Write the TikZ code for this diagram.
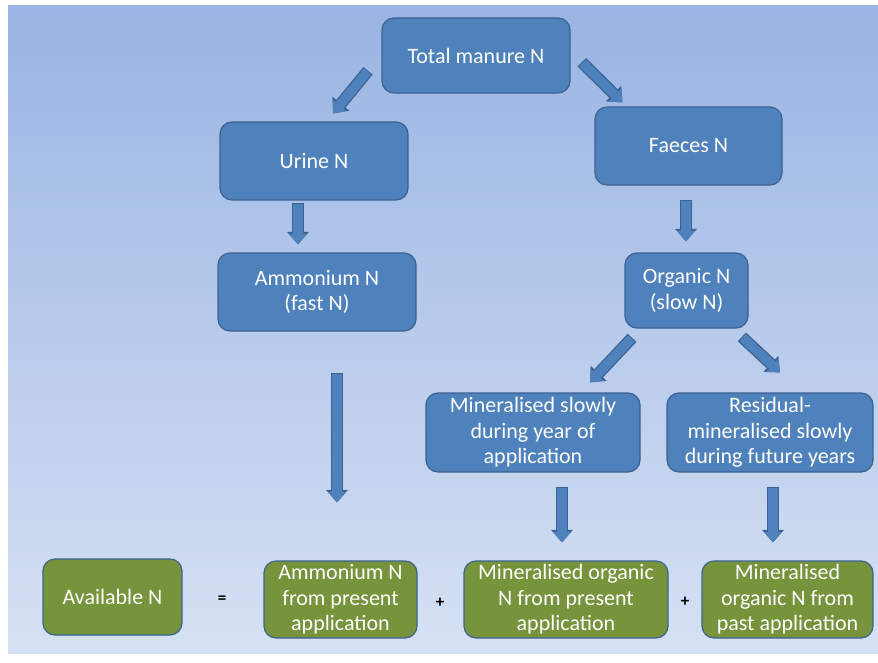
\documentclass[tikz,border=0pt]{standalone}
\usepackage{fontspec}
\setmainfont{Carlito}
\usetikzlibrary{arrows.meta, calc}
\definecolor{myblue}{RGB}{79,129,189}
\definecolor{myedge}{RGB}{60,98,145}
\definecolor{mygreen}{RGB}{119,147,60}
\definecolor{bgtop}{RGB}{153,180,227}
\definecolor{bgbottom}{RGB}{214,225,243}
\tikzstyle{blue} = [draw=myedge, line width=1.2, rounded corners=12,
    fill=myblue, text=white, inner sep=2,
    font=\fontsize{22}{25.5}\selectfont, align=center]
\tikzstyle{green} = [blue, fill=mygreen]
\tikzstyle{sign} = [font=\bfseries\fontsize{17}{17}\selectfont, text=black]
\tikzstyle{arrowedge} = [draw=myedge, line width=12, shorten <=-1,
    -{Triangle[length=12.5pt, width=22pt, line width=0pt]}]
\tikzstyle{arrowbody} = [draw=myblue, line width=9.5,
    -{Triangle[length=10.5pt, width=18pt, line width=0pt]}]
\newcommand{\blockarrow}[2]{\draw[arrowedge] #1 -- #2; \draw[arrowbody] #1 -- #2;}

\begin{document}
\begin{tikzpicture}[x=1pt, y=-1pt]
\useasboundingbox (0,0) rectangle (878,663);
\shade[top color=bgtop, bottom color=bgbottom] (8,6) rectangle (878,653);

%%% UPPER PART (blue)
\node[blue, minimum width=188, minimum height=75] (total) at (476,55.5) {Total manure N};
\node[blue, minimum width=188, minimum height=78] (urine) at (314,161) {Urine N};
\node[blue, minimum width=187, minimum height=78] (faeces) at (688.5,146) {Faeces N};
\node[blue, minimum width=198, minimum height=78] (ammon) at (317,292) {Ammonium N\\(fast N)};
\node[blue, minimum width=123, minimum height=75] (organic) at (686.5,290.5) {Organic N\\(slow N)};
\node[blue, minimum width=214, minimum height=79] (minslow) at (533,432.5) {Mineralised slowly\\during year of\\application};
\node[blue, minimum width=206, minimum height=79] (resid) at (770,432.5) {Residual-\\mineralised slowly\\during future years};

%%% LOWER PART (green)
\node[green, minimum width=139, minimum height=76] (avail) at (112.5,597) {Available N};
\node[green, minimum width=153, minimum height=77] (ammpres) at (340.5,599.5) {Ammonium N\\from present\\application};
\node[green, minimum width=204, minimum height=77] (minpres) at (566,599.5) {Mineralised organic\\N from present\\application};
\node[green, minimum width=171, minimum height=77] (minpast) at (787.5,599.5) {Mineralised\\organic N from\\past application};

% signs
\node[sign] (eq) at (222,600) {=};
\node[sign] (plusA) at (440,603) {+};
\node[sign] (plusB) at (685,602) {+};

%%% ARROWS
\blockarrow{([shift={(-14,-22)}]total.south west)}{([shift={(19,-8)}]urine.north)}
\blockarrow{([shift={(12,7.5)}]total.east)}{([shift={(28,-4)}]faeces.north west)}
\blockarrow{([shift={(-16,3)}]urine.south)}{([shift={(-19,-8)}]ammon.north)}
\blockarrow{([shift={(-2.5,15)}]faeces.south)}{([shift={(-0.5,-11)}]organic.north)}
\blockarrow{([shift={(7,10)}]organic.south west)}{([shift={(57,-10)}]minslow.north)}
\blockarrow{([shift={(-6,9)}]organic.south east)}{([shift={(10,-20)}]resid.north)}
\blockarrow{([shift={(20,42)}]ammon.south)}{([shift={(-3.5,-58)}]ammpres.north)}
\blockarrow{([shift={(29,15)}]minslow.south)}{([shift={(-4,-18)}]minpres.north)}
\blockarrow{([shift={(3,15)}]resid.south)}{([shift={(-14.5,-18)}]minpast.north)}

\end{tikzpicture}
\end{document}
